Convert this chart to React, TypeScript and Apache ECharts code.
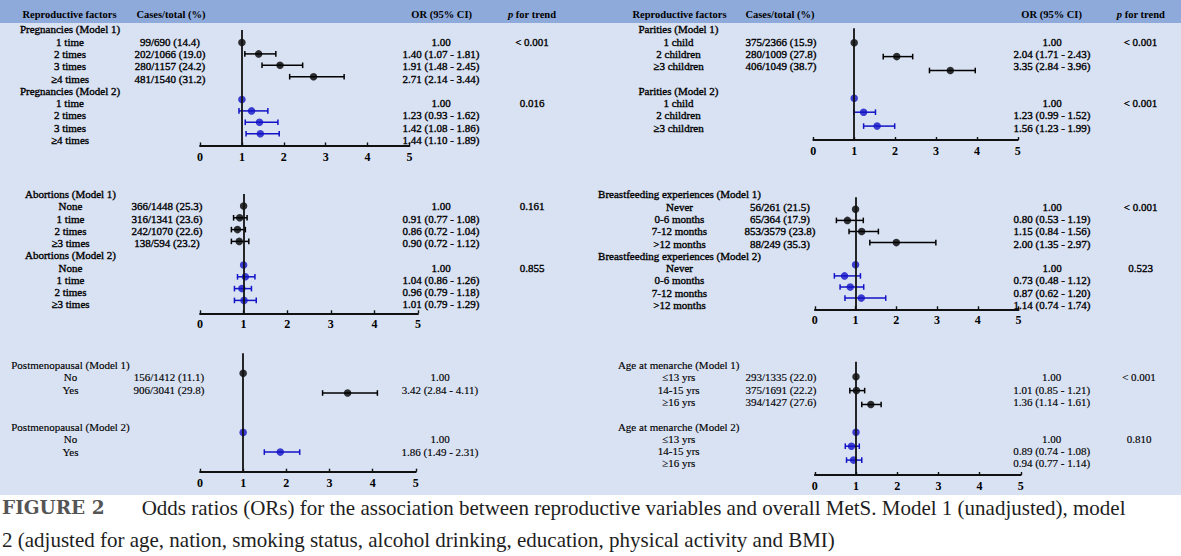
import React, { useEffect, useRef } from "react";
import * as echarts from "echarts";

// ---------------- DATA ----------------
const headerCols = ["Reproductive factors", "Cases/total (%)", "OR (95% CI)", "p for trend"];

const pregName = "Pregnancies";
const pregLabels = ["1 time", "2 times", "3 times", "≥4 times"];
const pregCases = ["99/690 (14.4)", "202/1066 (19.0)", "280/1157 (24.2)", "481/1540 (31.2)"];
const pregM1OR = [1.0, 1.4, 1.91, 2.71];
const pregM1Lo = [1.0, 1.07, 1.48, 2.14];
const pregM1Hi = [1.0, 1.81, 2.45, 3.44];
const pregM2OR = [1.0, 1.23, 1.42, 1.44];
const pregM2Lo = [1.0, 0.93, 1.08, 1.1];
const pregM2Hi = [1.0, 1.62, 1.86, 1.89];
const pregP = ["< 0.001", "0.016"];

const parName = "Parities";
const parLabels = ["1 child", "2 children", "≥3 children"];
const parCases = ["375/2366 (15.9)", "280/1009 (27.8)", "406/1049 (38.7)"];
const parM1OR = [1.0, 2.04, 3.35];
const parM1Lo = [1.0, 1.71, 2.84];
const parM1Hi = [1.0, 2.43, 3.96];
const parM2OR = [1.0, 1.23, 1.56];
const parM2Lo = [1.0, 0.99, 1.23];
const parM2Hi = [1.0, 1.52, 1.99];
const parP = ["< 0.001", "< 0.001"];

const aboName = "Abortions";
const aboLabels = ["None", "1 time", "2 times", "≥3 times"];
const aboCases = ["366/1448 (25.3)", "316/1341 (23.6)", "242/1070 (22.6)", "138/594 (23.2)"];
const aboM1OR = [1.0, 0.91, 0.86, 0.9];
const aboM1Lo = [1.0, 0.77, 0.72, 0.72];
const aboM1Hi = [1.0, 1.08, 1.04, 1.12];
const aboM2OR = [1.0, 1.04, 0.96, 1.01];
const aboM2Lo = [1.0, 0.86, 0.79, 0.79];
const aboM2Hi = [1.0, 1.26, 1.18, 1.29];
const aboP = ["0.161", "0.855"];

const bfName = "Breastfeeding experiences";
const bfLabels = ["Never", "0-6 months", "7-12 months", ">12 months"];
const bfCases = ["56/261 (21.5)", "65/364 (17.9)", "853/3579 (23.8)", "88/249 (35.3)"];
const bfM1OR = [1.0, 0.8, 1.15, 2.0];
const bfM1Lo = [1.0, 0.53, 0.84, 1.35];
const bfM1Hi = [1.0, 1.19, 1.56, 2.97];
const bfM2OR = [1.0, 0.73, 0.87, 1.14];
const bfM2Lo = [1.0, 0.48, 0.62, 0.74];
const bfM2Hi = [1.0, 1.12, 1.2, 1.74];
const bfP = ["< 0.001", "0.523"];

const pmName = "Postmenopausal";
const pmLabels = ["No", "Yes"];
const pmCases = ["156/1412 (11.1)", "906/3041 (29.8)"];
const pmM1OR = [1.0, 3.42];
const pmM1Lo = [1.0, 2.84];
const pmM1Hi = [1.0, 4.11];
const pmM2OR = [1.0, 1.86];
const pmM2Lo = [1.0, 1.49];
const pmM2Hi = [1.0, 2.31];
const pmP: string[] = ["", ""];

const menName = "Age at menarche";
const menLabels = ["≤13 yrs", "14-15 yrs", "≥16 yrs"];
const menCases = ["293/1335 (22.0)", "375/1691 (22.2)", "394/1427 (27.6)"];
const menM1OR = [1.0, 1.01, 1.36];
const menM1Lo = [1.0, 0.85, 1.14];
const menM1Hi = [1.0, 1.21, 1.61];
const menM2OR = [1.0, 0.89, 0.94];
const menM2Lo = [1.0, 0.74, 0.77];
const menM2Hi = [1.0, 1.08, 1.14];
const menP = ["< 0.001", "0.810"];

const axisTicks = [0, 1, 2, 3, 4, 5];

const captionLabel = "FIGURE 2";
const captionLine1 =
  "Odds ratios (ORs) for the association between reproductive variables and overall MetS. Model 1 (unadjusted), model";
const captionLine2 =
  "2 (adjusted for age, nation, smoking status, alcohol drinking, education, physical activity and BMI)";

// ---------------- LAYOUT / STYLE ----------------
const SERIF = "'Liberation Serif', 'Times New Roman', serif";
const BLACK = "#000000";
const BLUE = "#1212c6";
const HEADER_BG = "#8EAADB";
const BODY_BG = "#D9E2F3";

const layoutTL = { x0: 200, x5: 409.5, axisY: 145.5, lineTop: 30, mk0: 42.5, mkStep: 11.4, txtTop: 29.3, txtStep: 12.3, labelX: 70, casesX: 170, orX: 441, pX: 532, heavy: 0.35 };
const layoutTR = { x0: 813.3, x5: 1017.8, axisY: 140, lineTop: 28.3, mk0: 42.7, mkStep: 13.9, txtTop: 29.3, txtStep: 12.3, labelX: 678.5, casesX: 781, orX: 1052, pX: 1140.5, heavy: 0.35 };
const layoutML = { x0: 200, x5: 418, axisY: 313.3, lineTop: 194, mk0: 206, mkStep: 11.8, txtTop: 194, txtStep: 12.26, labelX: 70.5, casesX: 167, orX: 441, pX: 532, heavy: 0.35 };
const layoutMR = { x0: 814.8, x5: 1018.6, axisY: 309.3, lineTop: 197.3, mk0: 209.3, mkStep: 11.1, txtTop: 194.3, txtStep: 12.3, labelX: 679.5, casesX: 780, orX: 1052, pX: 1140.7, heavy: 0.35 };
const layoutBL = { x0: 200, x5: 415.8, axisY: 471.7, lineTop: 353.3, mk0: 373.3, mkStep: 19.7, txtTop: 365, txtStep: 12.4, labelX: 70.5, casesX: 169, orX: 440, pX: 532, heavy: 0.15 };
const layoutBR = { x0: 814.8, x5: 1020.8, axisY: 475, lineTop: 361.7, mk0: 376.7, mkStep: 13.9, txtTop: 365, txtStep: 12.3, labelX: 678.7, casesX: 781, orX: 1051.7, pX: 1139, heavy: 0.15 };

const headerLeft = { y: 14.3, xs: [69.5, 171, 441.7, 532] };
const headerRight = { y: 14.3, xs: [679.5, 780, 1051.6, 1140.8] };

type Model = { or: number[]; lo: number[]; hi: number[] };
type Panel = { name: string; labels: string[]; cases: string[]; m1: Model; m2: Model; p: string[]; L: any };

const panels: Panel[] = [
  { name: pregName, labels: pregLabels, cases: pregCases, m1: { or: pregM1OR, lo: pregM1Lo, hi: pregM1Hi }, m2: { or: pregM2OR, lo: pregM2Lo, hi: pregM2Hi }, p: pregP, L: layoutTL },
  { name: parName, labels: parLabels, cases: parCases, m1: { or: parM1OR, lo: parM1Lo, hi: parM1Hi }, m2: { or: parM2OR, lo: parM2Lo, hi: parM2Hi }, p: parP, L: layoutTR },
  { name: aboName, labels: aboLabels, cases: aboCases, m1: { or: aboM1OR, lo: aboM1Lo, hi: aboM1Hi }, m2: { or: aboM2OR, lo: aboM2Lo, hi: aboM2Hi }, p: aboP, L: layoutML },
  { name: bfName, labels: bfLabels, cases: bfCases, m1: { or: bfM1OR, lo: bfM1Lo, hi: bfM1Hi }, m2: { or: bfM2OR, lo: bfM2Lo, hi: bfM2Hi }, p: bfP, L: layoutMR },
  { name: pmName, labels: pmLabels, cases: pmCases, m1: { or: pmM1OR, lo: pmM1Lo, hi: pmM1Hi }, m2: { or: pmM2OR, lo: pmM2Lo, hi: pmM2Hi }, p: pmP, L: layoutBL },
  { name: menName, labels: menLabels, cases: menCases, m1: { or: menM1OR, lo: menM1Lo, hi: menM1Hi }, m2: { or: menM2OR, lo: menM2Lo, hi: menM2Hi }, p: menP, L: layoutBR },
];

function orText(or: number, lo: number, hi: number) {
  if (lo === hi) return or.toFixed(2);
  return `${or.toFixed(2)} (${lo.toFixed(2)} - ${hi.toFixed(2)})`;
}

function txt(text: string, x: number, y: number, extra: any = {}) {
  return {
    type: "text",
    x,
    y,
    silent: true,
    z: 10,
    style: {
      text,
      fill: BLACK,
      fontFamily: SERIF,
      fontSize: 11,
      align: "center",
      verticalAlign: "middle",
      ...extra,
    },
  };
}

function buildOption() {
  const grid: any[] = [];
  const xAxis: any[] = [];
  const yAxis: any[] = [];
  const series: any[] = [];
  const graphic: any[] = [];

  graphic.push({ type: "rect", z: -100, silent: true, shape: { x: 0, y: 0, width: 1181, height: 23 }, style: { fill: HEADER_BG } });
  graphic.push({ type: "rect", z: -100, silent: true, shape: { x: 0, y: 23, width: 1181, height: 472 }, style: { fill: BODY_BG } });

  [headerLeft, headerRight].forEach((h) => {
    headerCols.forEach((c, k) => {
      if (k === 3) {
        graphic.push(
          txt("{i|p} for trend", h.xs[k], h.y, {
            fontWeight: "bold",
            fontSize: 10.5,
            rich: { i: { fontStyle: "italic", fontWeight: "bold", fontSize: 10.5, fontFamily: SERIF } },
          })
        );
      } else {
        graphic.push(txt(c, h.xs[k], h.y, { fontWeight: "bold", fontSize: 10.5 }));
      }
    });
  });

  panels.forEach((P, i) => {
    const L = P.L;
    const n = P.labels.length;
    const H = L.axisY - L.lineTop;
    grid.push({ left: L.x0, top: L.lineTop, width: L.x5 - L.x0, height: H });
    xAxis.push({
      gridIndex: i,
      type: "value",
      min: axisTicks[0],
      max: axisTicks[axisTicks.length - 1],
      interval: 1,
      position: "bottom",
      axisLine: { show: true, onZero: false, lineStyle: { color: "#111", width: 1.8 } },
      axisTick: { show: true, inside: true, length: 3, lineStyle: { color: "#111", width: 1.4 } },
      axisLabel: { show: true, margin: 5, color: BLACK, fontFamily: SERIF, fontWeight: "bold", fontSize: 12 },
      splitLine: { show: false },
    });
    const ymin = -(L.mk0 - L.lineTop) / L.mkStep;
    yAxis.push({ gridIndex: i, type: "value", inverse: true, min: ymin, max: ymin + H / L.mkStep, show: false });

    // reference line at OR = 1
    series.push({
      type: "scatter",
      xAxisIndex: i,
      yAxisIndex: i,
      data: [],
      z: 1,
      silent: true,
      markLine: {
        silent: true,
        symbol: "none",
        label: { show: false },
        lineStyle: { color: "#111", width: 1.8, type: "solid" },
        data: [{ xAxis: 1 }],
      },
    });

    [P.m1, P.m2].forEach((m, mi) => {
      const color = mi === 0 ? BLACK : BLUE;
      const off = mi === 0 ? 0 : n + 1;
      const bars: number[][] = [];
      m.or.forEach((_, k) => {
        if (m.lo[k] !== m.hi[k]) bars.push([m.lo[k], m.hi[k], k + off]);
      });
      series.push({
        type: "custom",
        xAxisIndex: i,
        yAxisIndex: i,
        z: 2,
        silent: true,
        data: bars,
        encode: { x: [0, 1], y: 2 },
        renderItem: (_p: any, api: any) => {
          const a = api.coord([api.value(0), api.value(2)]);
          const b = api.coord([api.value(1), api.value(2)]);
          const c = 2.8;
          const st = { stroke: color, lineWidth: 1.5 };
          return {
            type: "group",
            children: [
              { type: "line", shape: { x1: a[0], y1: a[1], x2: b[0], y2: b[1] }, style: st },
              { type: "line", shape: { x1: a[0], y1: a[1] - c, x2: a[0], y2: a[1] + c }, style: st },
              { type: "line", shape: { x1: b[0], y1: b[1] - c, x2: b[0], y2: b[1] + c }, style: st },
            ],
          };
        },
      });
      series.push({
        type: "scatter",
        xAxisIndex: i,
        yAxisIndex: i,
        z: 3,
        silent: true,
        symbol: "circle",
        symbolSize: 7.5,
        itemStyle: { color },
        data: m.or.map((v, k) => [v, k + off]),
      });
    });

    // table texts (thin stroke thickens the glyphs slightly, like the reference)
    const hv = { stroke: BLACK, lineWidth: L.heavy };
    const rowY = (r: number) => L.txtTop + r * L.txtStep;
    graphic.push(txt(`${P.name} (Model 1)`, L.labelX, rowY(0), hv));
    graphic.push(txt(`${P.name} (Model 2)`, L.labelX, rowY(5), hv));
    P.labels.forEach((lab, k) => {
      graphic.push(txt(lab, L.labelX, rowY(1 + k), hv));
      graphic.push(txt(lab, L.labelX, rowY(6 + k), hv));
      graphic.push(txt(P.cases[k], L.casesX, rowY(1 + k), hv));
      graphic.push(txt(orText(P.m1.or[k], P.m1.lo[k], P.m1.hi[k]), L.orX, rowY(1 + k), hv));
      graphic.push(txt(orText(P.m2.or[k], P.m2.lo[k], P.m2.hi[k]), L.orX, rowY(6 + k), hv));
    });
    if (P.p[0]) graphic.push(txt(P.p[0], L.pX, rowY(1), hv));
    if (P.p[1]) graphic.push(txt(P.p[1], L.pX, rowY(6), hv));
  });

  // caption
  graphic.push(
    txt(captionLabel, 2, 507, {
      align: "left",
      fontWeight: "bold",
      fontSize: 18.5,
      fontFamily: "'DejaVu Serif', serif",
      fill: "#555555",
    })
  );
  graphic.push(txt(captionLine1, 141.7, 508, { align: "left", fontSize: 21, fill: "#1e1e1e" }));
  graphic.push(txt(captionLine2, 2, 540, { align: "left", fontSize: 21, fill: "#1e1e1e" }));

  return {
    animation: false,
    backgroundColor: "#ffffff",
    grid,
    xAxis,
    yAxis,
    series,
    graphic: { elements: graphic },
  };
}

export default function App() {
  const ref = useRef<HTMLDivElement | null>(null);
  useEffect(() => {
    if (!ref.current) return;
    const chart = echarts.init(ref.current, undefined, { renderer: "svg" });
    chart.setOption(buildOption() as any);
    return () => chart.dispose();
  }, []);
  return <div ref={ref} style={{ position: "absolute", left: 0, top: 0, width: 1181, height: 556 }} />;
}
